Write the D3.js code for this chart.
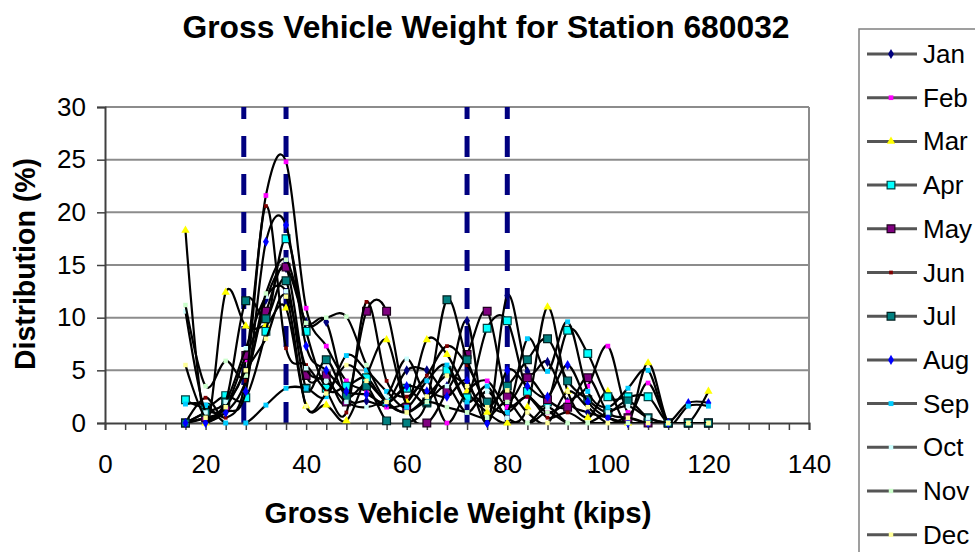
<!DOCTYPE html>
<html>
<head>
<meta charset="utf-8">
<script src="https://cdn.jsdelivr.net/npm/d3@7"></script>
<style>
  body { margin: 0; background: #fff; }
  svg { display: block; font-family: Arial, "Liberation Sans", sans-serif; }
</style>
</head>
<body>
<div id="chart"></div>
<script>
// gross vehicle weight bins (kips)
var weights = [16, 20, 24, 28, 32, 36, 40, 44, 48, 52, 56, 60, 64, 68, 72, 76, 80, 84, 88, 92, 96, 100, 104, 108, 112, 116, 120];
var months = ["Jan", "Feb", "Mar", "Apr", "May", "Jun", "Jul", "Aug", "Sep", "Oct", "Nov", "Dec"];

// distribution (%) per month
var jan = [0, 0.5, 1, 4, 11.7, 14.7, 9.6, 9.6, 2.6, 2.1, 1.9, 5.0, 5.0, 3.5, 9.7, 0, 12.1, 4.9, 5.8, 2.0, 1.0, 0.5, 0, 0, 0, 0, 0];
var feb = [0, 1, 2, 6, 21.6, 24.8, 10.9, 7.3, 4.0, 3.0, 1.5, 2.0, 4.0, 0, 3.0, 4.0, 1.5, 2.5, 1.0, 2.0, 3.5, 7.3, 1.0, 3.8, 0, 0, 0];
var mar = [18.3, 0, 12.4, 9.2, 9.3, 10.9, 1.6, 1.7, 0.2, 4.5, 7.9, 2.0, 7.9, 6.5, 3.0, 1.0, 0, 1.5, 11.0, 3.0, 0.5, 3.0, 0, 5.7, 0, 0, 3.0];
var apr = [2.2, 1.5, 2.6, 2.4, 8.7, 17.5, 8.7, 3.3, 3.5, 4.3, 2.0, 3.3, 1.9, 5.0, 2.4, 9.0, 9.7, 3.0, 2.0, 8.8, 6.6, 2.5, 2.5, 2.5, 0, 0, 0];
var may = [0, 0.5, 1.5, 6.4, 10.6, 14.8, 4.5, 4.5, 2.0, 10.6, 10.6, 1.5, 0, 3.0, 6.5, 10.6, 2.5, 4.3, 2.2, 1.5, 4.3, 1.0, 0.5, 0, 0, 0, 0];
var jun = [0, 2.4, 0.5, 4.0, 20.6, 7.1, 5.5, 3.0, 1.0, 11.5, 4.0, 2.5, 4.5, 7.3, 5.5, 2.0, 1.0, 2.5, 0.5, 1.0, 0, 0, 0, 0, 0, 0, 0];
var jul = [0, 1.0, 2.0, 11.6, 9.9, 13.5, 3.3, 6.0, 2.5, 3.5, 0.2, 0, 2.0, 11.7, 6.0, 2.0, 3.5, 6.0, 8.0, 4.0, 2.2, 1.0, 2.1, 0.5, 0, 0, 0];
var aug = [0, 0, 1.0, 3.0, 17.2, 18.8, 7.3, 5.0, 3.0, 2.7, 1.9, 3.5, 3.0, 2.5, 4.0, 0, 5.0, 3.5, 2.5, 5.5, 2.0, 0.5, 0, 0, 0, 1.9, 1.9];
var sep = [1.8, 1.7, 0, 0, 1.7, 3.3, 3.3, 2.5, 6.4, 5.0, 3.0, 1.5, 4.0, 5.5, 2.0, 3.5, 1.0, 8.0, 4.9, 9.6, 3.0, 1.5, 3.3, 5.0, 0, 1.6, 1.6];
var oct = [10.6, 1.0, 2.0, 7.1, 12.0, 12.5, 5.2, 4.0, 2.0, 1.5, 2.5, 6.1, 2.5, 3.5, 1.0, 3.0, 0.5, 0, 1.5, 0, 0, 1.0, 1.6, 0.5, 0, 0, 0];
var nov = [11.2, 3.5, 5.9, 4.5, 12.3, 15.5, 9.5, 10.0, 10.1, 5.5, 2.0, 1.0, 2.0, 1.5, 1.0, 0.5, 2.0, 0, 1.0, 0, 0, 0, 0, 0, 0, 0, 0];
var dec = [5.5, 0.5, 1.5, 5.0, 8.0, 12.0, 1.6, 2.8, 5.5, 4.0, 2.0, 1.0, 2.5, 4.5, 3.5, 1.5, 3.1, 1.0, 0, 3.0, 1.5, 0, 0.5, 0, 0, 0, 0];
var seriesValues = [jan, feb, mar, apr, may, jun, jul, aug, sep, oct, nov, dec];

// dashed reference lines (kips)
var markLines = [27.6, 36, 72, 80];
var xTicks = [0, 20, 40, 60, 80, 100, 120, 140];
var yTicks = [0, 5, 10, 15, 20, 25, 30];

// marker style per month
var markers = [
  { shape: d3.symbolDiamond, size: 30, fill: "#000080", stroke: "none" },
  { shape: d3.symbolSquare, size: 22, fill: "#ff00ff", stroke: "none" },
  { shape: d3.symbolTriangle, size: 30, fill: "#ffff00", stroke: "none" },
  { shape: d3.symbolSquare, size: 60, fill: "#00ffff", stroke: "#004040" },
  { shape: d3.symbolSquare, size: 60, fill: "#800080", stroke: "#200020" },
  { shape: d3.symbolSquare, size: 14, fill: "#800000", stroke: "none" },
  { shape: d3.symbolSquare, size: 60, fill: "#008080", stroke: "#002020" },
  { shape: d3.symbolDiamond, size: 30, fill: "#0000ff", stroke: "none" },
  { shape: d3.symbolSquare, size: 24, fill: "#00ccff", stroke: "none" },
  { shape: d3.symbolSquare, size: 20, fill: "#ccffff", stroke: "none" },
  { shape: d3.symbolSquare, size: 20, fill: "#ccffcc", stroke: "none" },
  { shape: d3.symbolSquare, size: 20, fill: "#ffff99", stroke: "none" }
];

var width = 975, height = 552;
var svg = d3.select("#chart").append("svg")
  .attr("width", width)
  .attr("height", height);

var x = d3.scaleLinear().domain([0, 140]).range([105, 809]);
var y = d3.scaleLinear().domain([0, 30]).range([423, 107]);

// 제목
svg.append("text")
  .attr("x", 486)
  .attr("y", 38)
  .attr("text-anchor", "middle")
  .attr("font-size", 32)
  .attr("font-weight", "bold")
  .attr("textLength", 607)
  .attr("lengthAdjust", "spacingAndGlyphs")
  .text("Gross Vehicle Weight for Station 680032");

// gridlines
svg.append("g")
  .selectAll("line")
  .data(yTicks.filter(function(d){ return d > 0; }))
  .enter().append("line")
  .attr("x1", x(0)).attr("x2", x(140))
  .attr("y1", function(d){ return y(d); })
  .attr("y2", function(d){ return y(d); })
  .attr("stroke", "#8c8c8c")
  .attr("stroke-width", 2);

// right border of plot area
svg.append("line")
  .attr("x1", x(140)).attr("x2", x(140))
  .attr("y1", y(30)).attr("y2", y(0))
  .attr("stroke", "#8c8c8c")
  .attr("stroke-width", 2);

// dashed lines
svg.append("g")
  .selectAll("line")
  .data(markLines)
  .enter().append("line")
  .attr("x1", function(d){ return x(d); })
  .attr("x2", function(d){ return x(d); })
  .attr("y1", y(0)).attr("y2", y(30))
  .attr("stroke", "#000080")
  .attr("stroke-width", 5)
  .attr("stroke-dasharray", "21,17");

// axes
var yAxis = svg.append("g")
  .attr("transform", "translate(" + x(0) + ",0)")
  .call(d3.axisLeft(y).tickValues(yTicks).tickSize(8).tickPadding(11));
var xAxis = svg.append("g")
  .attr("transform", "translate(0," + y(0) + ")")
  .call(d3.axisBottom(x).tickValues(d3.range(0, 141, 4)).tickSize(7).tickFormat(""));
svg.append("g")
  .attr("transform", "translate(0," + y(0) + ")")
  .call(d3.axisBottom(x).tickValues(xTicks).tickSize(0).tickPadding(32))
  .call(function(g){ g.select(".domain").remove(); })
  .selectAll("text")
  .attr("font-size", 26)
  .attr("fill", "#000");

[yAxis, xAxis].forEach(function(g){
  g.select(".domain").attr("stroke", "#404040").attr("stroke-width", 2);
  g.selectAll(".tick line").attr("stroke", "#404040").attr("stroke-width", 1.5);
});
yAxis.selectAll("text").attr("font-size", 26).attr("fill", "#000");
svg.selectAll(".tick text").attr("font-family", "Arial, 'Liberation Sans', sans-serif");

// axis titles
svg.append("text")
  .attr("x", 458)
  .attr("y", 523)
  .attr("text-anchor", "middle")
  .attr("font-size", 30)
  .attr("font-weight", "bold")
  .attr("textLength", 387)
  .attr("lengthAdjust", "spacingAndGlyphs")
  .text("Gross Vehicle Weight (kips)");

svg.append("text")
  .attr("transform", "translate(35,264) rotate(-90)")
  .attr("text-anchor", "middle")
  .attr("font-size", 29)
  .attr("font-weight", "bold")
  .attr("textLength", 212)
  .attr("lengthAdjust", "spacingAndGlyphs")
  .text("Distribution (%)");

// series
svg.append("clipPath").attr("id", "plotClip")
  .append("rect")
  .attr("x", x(0)).attr("y", y(30))
  .attr("width", x(140) - x(0)).attr("height", y(0) - y(30));

var line = d3.line()
  .x(function(d, i){ return x(weights[i]); })
  .y(function(d){ return y(d); })
  .curve(d3.curveCardinal.tension(0));

var seriesG = svg.append("g");
seriesValues.forEach(function(vals, s){
  var g = seriesG.append("g").attr("class", "series-" + months[s]);
  g.append("path")
    .attr("d", line(vals))
    .attr("fill", "none")
    .attr("stroke", "#000")
    .attr("stroke-width", 2.2)
    .attr("clip-path", "url(#plotClip)");
  var m = markers[s];
  g.selectAll("path.pt")
    .data(vals)
    .enter().append("path")
    .attr("class", "pt")
    .attr("d", d3.symbol().type(m.shape).size(m.size))
    .attr("transform", function(d, i){ return "translate(" + x(weights[i]) + "," + y(d) + ")"; })
    .attr("fill", m.fill)
    .attr("stroke", m.stroke)
    .attr("stroke-width", 1.2);
});

// legend
var legend = svg.append("g");
legend.append("rect")
  .attr("x", 859).attr("y", 29)
  .attr("width", 140).attr("height", 540)
  .attr("fill", "#fff")
  .attr("stroke", "#808080")
  .attr("stroke-width", 1.5);

var rowH = 43.7;
var rows = legend.selectAll("g.row")
  .data(months)
  .enter().append("g")
  .attr("class", "row")
  .attr("transform", function(d, i){ return "translate(0," + (54 + i * rowH) + ")"; });

rows.append("line")
  .attr("x1", 867).attr("x2", 917)
  .attr("y1", 0).attr("y2", 0)
  .attr("stroke", "#555")
  .attr("stroke-width", 3);

rows.append("path")
  .attr("d", function(d, i){ return d3.symbol().type(markers[i].shape).size(markers[i].size)(); })
  .attr("transform", "translate(891,0)")
  .attr("fill", function(d, i){ return markers[i].fill; })
  .attr("stroke", function(d, i){ return markers[i].stroke; })
  .attr("stroke-width", 1.2);

rows.append("text")
  .attr("x", 923)
  .attr("y", 9)
  .attr("font-size", 26)
  .attr("fill", "#000")
  .text(function(d){ return d; });
</script>
</body>
</html>
